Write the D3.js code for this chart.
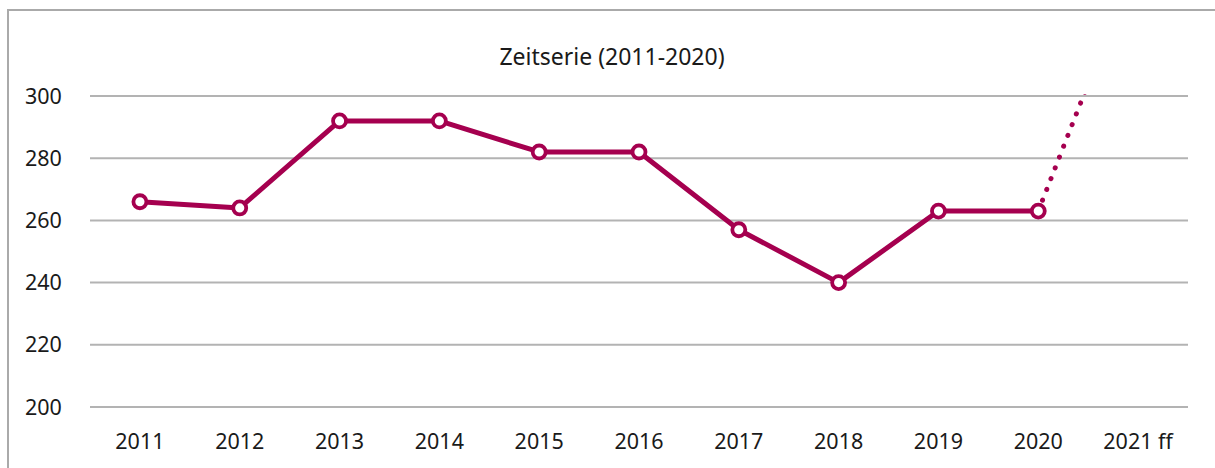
<!doctype html>
<html>
<head>
<meta charset="utf-8">
<script src="https://cdn.jsdelivr.net/npm/d3@7"></script>
<style>
  body { margin:0; background:#fff; }
  svg { display:block; }
  text { font-family:"Noto Sans","Open Sans",sans-serif; fill:#1a1a1a; }
</style>
</head>
<body>
<script>
// data
var years = ["2011","2012","2013","2014","2015","2016","2017","2018","2019","2020","2021 ff"];
var values = [266, 264, 292, 292, 282, 282, 257, 240, 263, 263];
var forecast = [263, 345]; // 2020 -> 2021 ff (runs off the top)
var yTicks = [200, 220, 240, 260, 280, 300];

var W = 1215, H = 468;
var margin = {left:90, right:27, top:96, bottom:61};

var svg = d3.select("body").append("svg").attr("width",W).attr("height",H);

// outer frame (only top + left visible)
svg.append("rect")
    .attr("x",8).attr("y",10).attr("width",1230).attr("height",480)
    .attr("fill","none").attr("stroke","#aaa").attr("stroke-width",2);

var x = d3.scaleBand().domain(years).range([margin.left, W-margin.right]);
var y = d3.scaleLinear().domain([200,300]).range([H-margin.bottom, margin.top]);

// gridlines
svg.append("g").selectAll("line").data(yTicks).enter().append("line")
    .attr("x1",margin.left).attr("x2",W-margin.right)
    .attr("y1",function(d){return y(d);}).attr("y2",function(d){return y(d);})
    .attr("stroke","#b3b3b3").attr("stroke-width",2);

// y labels
svg.append("g").selectAll("text").data(yTicks).enter().append("text")
    .attr("x",25).attr("y",function(d){return y(d);}).attr("dy","0.35em")
    .style("font-size","21.5px").text(function(d){return d;});

// x labels
svg.append("g").selectAll("text").data(years).enter().append("text")
    .attr("x",function(d){return x(d)+x.bandwidth()/2;})
    .attr("y",H-margin.bottom+42)
    .attr("text-anchor","middle").style("font-size","21.5px")
    .text(function(d){return d;});

// title
svg.append("text").attr("x",612).attr("y",65).attr("text-anchor","middle")
    .style("font-size","23px").text("Zeitserie (2011-2020)");

var col = "#a5004f";
var cx = function(i){return x(years[i])+x.bandwidth()/2;};

svg.append("clipPath").attr("id","plot").append("rect")
    .attr("x",margin.left).attr("y",margin.top-2)
    .attr("width",W-margin.left-margin.right).attr("height",H-margin.top-margin.bottom+4);

// forecast dotted
svg.append("path")
    .datum(forecast)
    .attr("clip-path","url(#plot)")
    .attr("d",d3.line().x(function(d,i){return cx(9+i);}).y(function(d){return y(d);}))
    .attr("fill","none").attr("stroke",col).attr("stroke-width",5)
    .attr("stroke-linecap","round").attr("stroke-dasharray","0.1 11.5");

// main line
svg.append("path")
    .datum(values)
    .attr("d",d3.line().x(function(d,i){return cx(i);}).y(function(d){return y(d);}))
    .attr("fill","none").attr("stroke",col).attr("stroke-width",5)
    .attr("stroke-linejoin","round");

// markers
svg.append("g").selectAll("circle").data(values).enter().append("circle")
    .attr("cx",function(d,i){return cx(i);}).attr("cy",function(d){return y(d);})
    .attr("r",6.5).attr("fill","#fff").attr("stroke",col).attr("stroke-width",3.8);
</script>
</body>
</html>
